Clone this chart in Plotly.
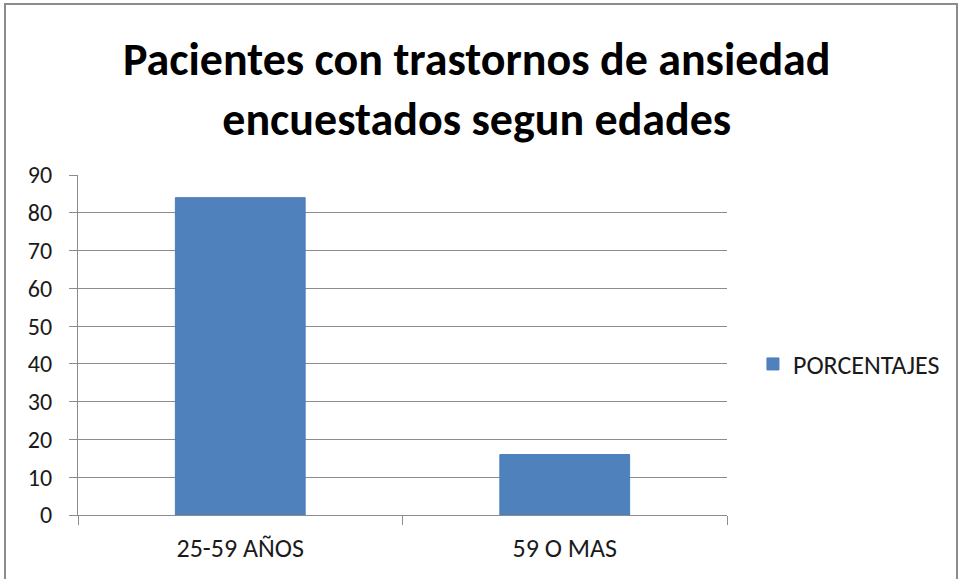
import plotly.graph_objects as go

categories = ["25-59 AÑOS", "59 O MAS"]
values = [84, 16]
series_name = "PORCENTAJES"
title_lines = ["Pacientes con trastornos de ansiedad", "encuestados segun edades"]

FONT = "Carlito, Lato, 'Open Sans', sans-serif"

fig = go.Figure()
fig.add_trace(go.Bar(
    x=categories, y=values, name=series_name,
    marker=dict(color="#4F81BD", line=dict(color="#4A7EBB", width=1)),
    width=0.4, showlegend=True,
))

fig.update_layout(
    width=959, height=579,
    margin=dict(l=78, r=232, t=175, b=64),
    paper_bgcolor="white", plot_bgcolor="white",
    font=dict(family=FONT, size=24, color="#1a1a1a"),
    showlegend=True,
    legend=dict(x=1.040, y=0.444, xanchor="left", yanchor="middle",
                font=dict(size=26, color="#1a1a1a"), itemwidth=30,
                bgcolor="rgba(0,0,0,0)"),
    annotations=[dict(
        text="<b>" + title_lines[0] + "<br>" + title_lines[1] + "</b>",
        xref="paper", yref="paper", x=(476 - 78) / 649, y=(515 - 89) / 340,
        xanchor="center", yanchor="middle", showarrow=False,
        font=dict(family=FONT, size=46, color="#000"),
    )],
    shapes=[dict(type="rect", xref="paper", yref="paper",
                 x0=(5 - 78) / 649, x1=(957 - 78) / 649,
                 y0=(515 - 600) / 340, y1=(515 - 4) / 340,
                 line=dict(color="#8C8C8C", width=2), layer="below")],
)

fig.update_yaxes(range=[0, 90], dtick=10, showgrid=True, gridcolor="#8C8C8C",
                 gridwidth=1, showline=True, linecolor="#8C8C8C", linewidth=1,
                 ticks="outside", ticklen=8, tickcolor="#8C8C8C",
                 ticklabelstandoff=12,
                 tickfont=dict(size=24, color="#1a1a1a"), zeroline=False)
fig.update_xaxes(showline=True, linecolor="#8C8C8C", linewidth=1,
                 ticks="outside", ticklen=9, tickcolor="#8C8C8C",
                 tickson="boundaries", ticklabelstandoff=10,
                 tickfont=dict(size=26, color="#1a1a1a"),
                 showgrid=False)

fig.write_html("out.html", config={"displayModeBar": False},
               post_script="document.body.style.margin='0';")
